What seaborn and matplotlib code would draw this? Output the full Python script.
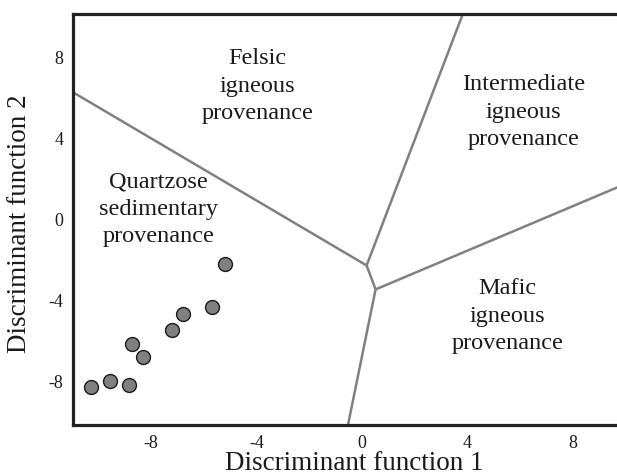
import matplotlib
matplotlib.use("Agg")
import matplotlib.pyplot as plt
import seaborn as sns
import pandas as pd

# Sample points (Discriminant function 1, Discriminant function 2)
df1_values = [-10.28, -9.57, -8.82, -8.74, -8.31, -7.22, -6.79, -5.70, -5.20]
df2_values = [-8.25, -7.93, -8.17, -6.13, -6.75, -5.44, -4.66, -4.30, -2.17]

# Field boundary segments (x list, y list)
boundary_felsic_quartz_x = [-10.97, 0.18]
boundary_felsic_quartz_y = [6.28, -2.26]
boundary_felsic_inter_x = [0.18, 3.85]
boundary_felsic_inter_y = [-2.26, 10.2]
boundary_center_x = [0.18, 0.52]
boundary_center_y = [-2.26, -3.44]
boundary_inter_mafic_x = [0.52, 9.75]
boundary_inter_mafic_y = [-3.44, 1.62]
boundary_mafic_quartz_x = [0.52, -0.54]
boundary_mafic_quartz_y = [-3.44, -10.2]

# Field labels
field_labels = ["Felsic\nigneous\nprovenance",
                "Intermediate\nigneous\nprovenance",
                "Quartzose\nsedimentary\nprovenance",
                "Mafic\nigneous\nprovenance"]
field_x = [-3.96, 6.13, -7.73, 5.53]
field_y = [6.58, 5.3, 0.5, -4.75]

x_ticks = [-10, -8, -6, -4, -2, 0, 2, 4, 6, 8]
x_tick_labels = ["", "-8", "", "-4", "", "0", "", "4", "", "8"]
y_ticks = [-8, -4, 0, 4, 8]
y_tick_labels = ["-8", "-4", "0", "4", "8"]

sns.set_theme(style="white")
plt.rcParams['font.family'] = ['Liberation Serif', 'DejaVu Serif']

fig = plt.figure(figsize=(6.17, 4.76), dpi=100)
ax = fig.add_axes([73.3 / 617, 51 / 476, 1 - 73.3 / 617, 411 / 476])

line_kw = dict(color="#808080", lw=1.8, solid_capstyle="butt", zorder=2)
for bx, by in [(boundary_felsic_quartz_x, boundary_felsic_quartz_y),
               (boundary_felsic_inter_x, boundary_felsic_inter_y),
               (boundary_center_x, boundary_center_y),
               (boundary_inter_mafic_x, boundary_inter_mafic_y),
               (boundary_mafic_quartz_x, boundary_mafic_quartz_y)]:
    ax.plot(bx, by, **line_kw)

pts = pd.DataFrame({"DF1": df1_values, "DF2": df2_values})
sns.scatterplot(data=pts, x="DF1", y="DF2", ax=ax, s=100, color="#808080",
                edgecolor="#1a1a1a", linewidth=1.0, zorder=3)

for label, tx, ty in zip(field_labels, field_x, field_y):
    ax.text(tx, ty, label, ha="center", va="center", multialignment="center",
            fontsize=17.5, color="#1a1a1a", linespacing=1.38)

ax.set_xlim(-10.95, 9.68)
ax.set_ylim(-10.12, 10.13)
ax.set_xticks(x_ticks)
ax.set_xticklabels(x_tick_labels)
ax.set_yticks(y_ticks)
ax.set_yticklabels(y_tick_labels)
ax.tick_params(axis="both", direction="in", length=10.5, width=0.9,
               color="#222222", labelsize=13, labelcolor="#1a1a1a", pad=7)

for side in ["left", "bottom", "top"]:
    ax.spines[side].set_linewidth(2.3)
    ax.spines[side].set_color("#222222")
ax.spines["right"].set_visible(False)

ax.set_xlabel("Discriminant function 1", fontsize=19.5, color="#1a1a1a")
ax.set_ylabel("Discriminant function 2", fontsize=19.5, color="#1a1a1a")
ax.xaxis.set_label_coords(0.5176, -0.064)
ax.yaxis.set_label_coords(-0.076, 0.49)

fig.savefig("out.png", dpi=100)
